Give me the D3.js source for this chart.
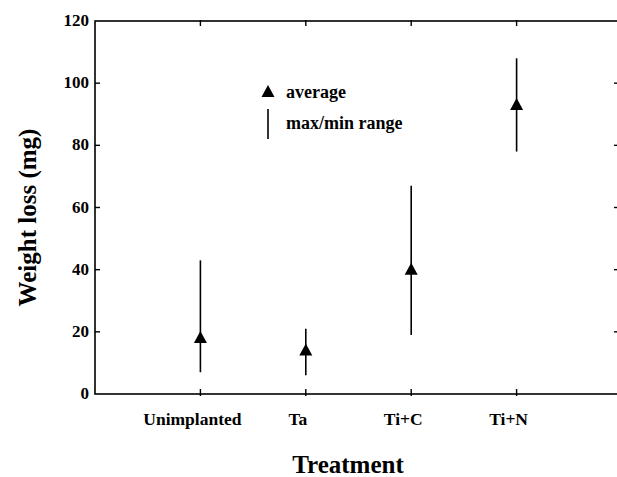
<!DOCTYPE html>
<html>
<head>
<meta charset="utf-8">
<script src="https://cdn.jsdelivr.net/npm/d3@7"></script>
<style>
  html, body { margin: 0; padding: 0; background: #fff; }
  svg { display: block; }
  text { font-family: "Liberation Serif", "Times New Roman", serif; font-weight: bold; fill: #000; }
  .frame { fill: none; stroke: #000; stroke-width: 1.6; }
  .range { stroke: #000; stroke-width: 1.6; }
  .tick-mark { stroke: #000; stroke-width: 1.4; }
</style>
</head>
<body>
<div id="chart"></div>
<script>
// Weight loss per treatment: mean (triangle) and max/min span (vertical line).
const categories = ["Unimplanted", "Ta", "Ti+C", "Ti+N"];
const averages = [18, 14, 40, 93];
const minima = [7, 6, 19, 78];
const maxima = [43, 21, 67, 108];
const yTicks = [0, 20, 40, 60, 80, 100, 120];

const width = 617, height = 477;
const m = { top: 21, left: 95, bottom: 83, right: -5 };
const iW = width - m.left - m.right, iH = height - m.top - m.bottom;

// Categories sit at 1..4 on a 0..5 span; the right edge runs just past the page.
const x = d3.scaleLinear([0, 5], [0, iW]);
const y = d3.scaleLinear([0, 120], [iH, 0]);

const svg = d3.select("#chart").append("svg")
  .attr("width", width).attr("height", height);
const g = svg.append("g").attr("transform", `translate(${m.left},${m.top})`);

g.append("rect").attr("class", "frame").attr("x", 0).attr("y", 0).attr("width", iW).attr("height", iH);

// Inward ticks on all four sides.
const tk = 5;
g.selectAll(".yl").data(yTicks.slice(1, -1)).join("line").attr("class", "tick-mark")
  .attr("x1", 0).attr("x2", tk).attr("y1", (d) => y(d)).attr("y2", (d) => y(d));
g.selectAll(".yr").data(yTicks.slice(1, -1)).join("line").attr("class", "tick-mark")
  .attr("x1", iW).attr("x2", iW - tk - 3).attr("y1", (d) => y(d)).attr("y2", (d) => y(d));
const cx = categories.map((_, i) => x(i + 1));
g.selectAll(".xb").data(cx).join("line").attr("class", "tick-mark")
  .attr("x1", (d) => d).attr("x2", (d) => d).attr("y1", iH + 2).attr("y2", iH - tk);
g.selectAll(".xt").data(cx).join("line").attr("class", "tick-mark")
  .attr("x1", (d) => d).attr("x2", (d) => d).attr("y1", -1).attr("y2", tk);

g.selectAll(".ylab").data(yTicks).join("text")
  .attr("x", -6).attr("y", (d) => y(d) + 5).attr("text-anchor", "end")
  .style("font-size", "17px").text((d) => d);

g.selectAll(".xlab").data(categories).join("text")
  .attr("x", (d, i) => cx[i] - 8).attr("y", iH + 31).attr("text-anchor", "middle")
  .style("font-size", "17.5px").text((d) => d);

// Range lines and average triangles.
g.selectAll(".range").data(categories).join("line").attr("class", "range")
  .attr("x1", (d, i) => cx[i]).attr("x2", (d, i) => cx[i])
  .attr("y1", (d, i) => y(maxima[i])).attr("y2", (d, i) => y(minima[i]));

const tri = (px, py) => `M${px},${py - 7}L${px + 6.5},${py + 5}L${px - 6.5},${py + 5}Z`;
g.selectAll(".avg").data(categories).join("path")
  .attr("d", (d, i) => tri(cx[i], y(averages[i]))).attr("fill", "#000");

// Legend.
const lx = 268 - m.left, ly = 92 - m.top;
g.append("path").attr("d", tri(lx, ly)).attr("fill", "#000");
g.append("text").attr("x", lx + 18).attr("y", ly + 6).style("font-size", "18px").text("average");
g.append("line").attr("class", "range").attr("x1", lx).attr("x2", lx).attr("y1", ly + 17).attr("y2", ly + 47);
g.append("text").attr("x", lx + 18).attr("y", ly + 37).style("font-size", "18px").text("max/min range");

// Axis titles.
svg.append("text").attr("text-anchor", "middle").attr("x", 348).attr("y", 473)
  .style("font-size", "25px").text("Treatment");
svg.append("text").attr("text-anchor", "middle")
  .attr("transform", `translate(36,${m.top + iH / 2 + 10}) rotate(-90)`)
  .style("font-size", "25px").text("Weight loss (mg)");
</script>
</body>
</html>
